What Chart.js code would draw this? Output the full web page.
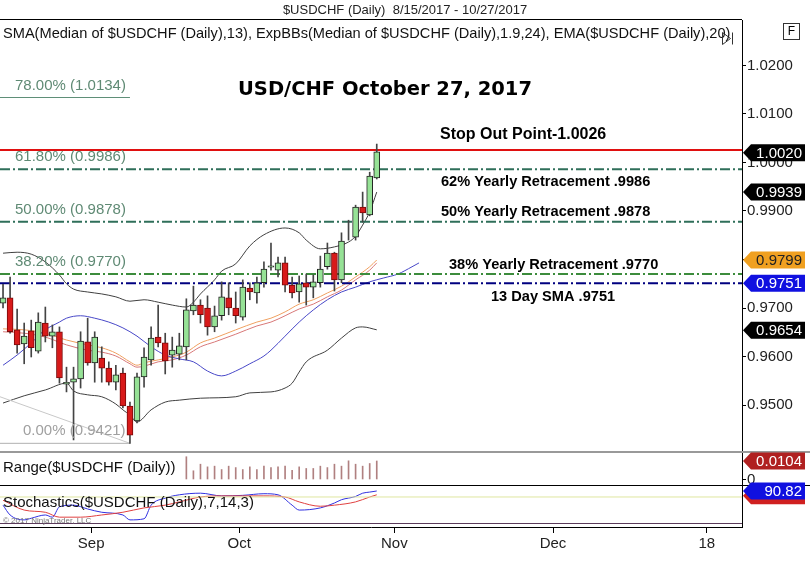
<!DOCTYPE html>
<html>
<head>
<meta charset="utf-8">
<script src="https://cdn.jsdelivr.net/npm/chart.js@4.4.0/dist/chart.umd.min.js"></script>
<style>
body { margin: 0; background: #fff; }
#wrap { width: 810px; height: 587px; position: relative; }
</style>
</head>
<body>
<div id="wrap"><canvas id="chart" width="810" height="587"></canvas></div>
<script>
// daily bars 8/15/2017 - 10/27/2017, x = trading day index (0 = Aug 15)
var open  = [0.9710,0.9721,0.9655,0.9626,0.9653,0.9611,0.9669,0.9642,0.9651,0.9543,0.9547,0.9554,0.9630,0.9587,0.9597,0.9576,0.9547,0.9566,0.9498,0.9467,0.9558,0.9593,0.9640,0.9628,0.9603,0.9605,0.9620,0.9694,0.9706,0.9700,0.9661,0.9684,0.9721,0.9700,0.9681,0.9741,0.9731,0.9752,0.9784,0.9778,0.9793,0.9747,0.9733,0.9752,0.9743,0.9752,0.9785,0.9813,0.9758,0.9847,0.9846,0.9908,0.9892,0.9968];
var high  = [0.9749,0.9764,0.9698,0.9669,0.9675,0.9690,0.9702,0.9665,0.9661,0.9578,0.9578,0.9651,0.9679,0.9651,0.9620,0.9589,0.9582,0.9576,0.9506,0.9566,0.9618,0.9661,0.9706,0.9648,0.9640,0.9648,0.9719,0.9745,0.9717,0.9725,0.9704,0.9754,0.9752,0.9733,0.9758,0.9752,0.9764,0.9795,0.9834,0.9805,0.9805,0.9764,0.9766,0.9770,0.9768,0.9807,0.9834,0.9815,0.9855,0.9881,0.9912,0.9939,0.9980,1.0038];
var low   = [0.9700,0.9648,0.9607,0.9585,0.9599,0.9607,0.9630,0.9618,0.9545,0.9527,0.9428,0.9535,0.9582,0.9547,0.9547,0.9541,0.9531,0.9494,0.9421,0.9463,0.9537,0.9582,0.9620,0.9564,0.9578,0.9593,0.9593,0.9686,0.9669,0.9644,0.9651,0.9675,0.9686,0.9669,0.9675,0.9717,0.9710,0.9743,0.9778,0.9764,0.9733,0.9721,0.9712,0.9706,0.9721,0.9743,0.9780,0.9735,0.9752,0.9840,0.9840,0.9877,0.9890,0.9966];
var close = [0.9721,0.9651,0.9624,0.9642,0.9618,0.9671,0.9642,0.9651,0.9556,0.9547,0.9554,0.9632,0.9587,0.9640,0.9576,0.9547,0.9562,0.9498,0.9438,0.9558,0.9599,0.9638,0.9628,0.9591,0.9613,0.9622,0.9696,0.9706,0.9686,0.9661,0.9684,0.9723,0.9700,0.9684,0.9743,0.9733,0.9752,0.9780,0.9787,0.9793,0.9747,0.9731,0.9750,0.9743,0.9754,0.9780,0.9813,0.9758,0.9838,0.9847,0.9908,0.9896,0.9972,1.0022];

// indicator lines
var bbUpIdx = [0,2,4,6,8,9,10,12,14,16,18,20,22,24,26,27,28,30,31,33,35,37,40,42,43,45,47,49,50,51,52,53];
var bbUp    = [0.9813,0.9815,0.9811,0.9795,0.9768,0.9750,0.9739,0.9733,0.9729,0.9723,0.9714,0.9717,0.9712,0.9706,0.9702,0.9712,0.9729,0.9758,0.9776,0.9791,0.9828,0.9851,0.9865,0.9855,0.9840,0.9822,0.9826,0.9836,0.9848,0.9871,0.9898,0.9939];
var bbLoIdx = [0,3,6,9,10,12,14,16,17,18,19,21,23,25,28,33,35,38,40,41,42,43,46,48,50,51,53];
var bbLo    = [0.9504,0.9519,0.9531,0.9545,0.9529,0.9521,0.9517,0.9502,0.9490,0.9479,0.9465,0.9490,0.9506,0.9510,0.9514,0.9517,0.9525,0.9527,0.9535,0.9545,0.9568,0.9589,0.9613,0.9638,0.9659,0.9661,0.9655];
var smaIdx  = [0,2,4,6,8,9,11,13,15,17,19,21,23,25,27,29,31,33,35,37,38,40,42,44,46,48,50,52,54,56,58,59];
var sma     = [0.9582,0.9603,0.9628,0.9655,0.9671,0.9679,0.9684,0.9679,0.9671,0.9659,0.9642,0.9620,0.9603,0.9595,0.9589,0.9570,0.9560,0.9570,0.9585,0.9601,0.9613,0.9642,0.9671,0.9696,0.9717,0.9733,0.9743,0.9754,0.9762,0.9770,0.9785,0.9793];
var emaIdx  = [0,3,6,9,12,14,16,18,19,20,22,24,26,28,30,33,36,38,40,42,44,46,48,50,52,53];
var ema     = [0.9657,0.9655,0.9648,0.9634,0.9624,0.9618,0.9607,0.9589,0.9582,0.9587,0.9593,0.9599,0.9609,0.9628,0.9638,0.9655,0.9671,0.9679,0.9692,0.9708,0.9717,0.9731,0.9745,0.9764,0.9785,0.9799];
var ema2    = [0.9651,0.9648,0.9640,0.9624,0.9613,0.9609,0.9601,0.9585,0.9578,0.9580,0.9589,0.9593,0.9603,0.9620,0.9630,0.9646,0.9663,0.9671,0.9684,0.9698,0.9708,0.9723,0.9737,0.9758,0.9778,0.9793];

// fib levels + manual lines
var fibLevels = [1.0134, 0.9986, 0.9878, 0.9770, 0.9421];
var fibNames  = ['78.00% (1.0134)', '61.80% (0.9986)', '50.00% (0.9878)', '38.20% (0.9770)', '0.00% (0.9421)'];
var stopLevel = 1.0026;
var smaLevel  = 0.9751;
var fibDiag   = [0.9517, 0.9421];

// lower panels
var rangeIdx = [26,27,28,29,30,31,32,33,34,35,36,37,38,39,40,41,42,43,44,45,46,47,48,49,50,51,52,53];
var rangeVal = [0.0128,0.0049,0.0086,0.0071,0.0075,0.0056,0.0075,0.0067,0.0056,0.0071,0.0056,0.0075,0.0067,0.0071,0.0075,0.0052,0.0071,0.0062,0.0062,0.0075,0.0067,0.0086,0.0075,0.0105,0.0086,0.0075,0.0090,0.0104];
var stochKIdx = [0,1,3,4,6,7,8,10,12,14,17,18,20,21,23,25,28,31,34,37,39,41,42,45,47,48,50,51,52,53];
var stochK    = [65,47,38,41,47,43,62,65,58,52,47,38,40,65,78,84,87,82,83,86,84,65,56,60,69,75,81,87,89,91];
var stochDIdx = [0,3,6,8,11,14,17,20,23,25,28,31,34,37,40,42,45,47,50,52,53];
var stochD    = [74,56,52,43,43,47,52,60,65,71,80,82,82,82,80,71,63,65,71,80,84];

// axis
var monthTicks  = [12.5, 33.5, 55.5, 78.0, 99.8];
var monthLabels = ['Sep', 'Oct', 'Nov', 'Dec', '18'];
var tagVals = [1.0020, 0.9939, 0.9799, 0.9751, 0.9654];
var tagText = ['1.0020', '0.9939', '0.9799', '0.9751', '0.9654'];
var tagBg   = ['#000', '#000', '#f0a020', '#1010e0', '#000'];

var X_MIN = -0.43, X_MAX = 104.8;
var FONT = '"Liberation Sans", Arial, sans-serif';

function pts(idx, vals) {
    return idx.map(function (x, i) { return {x: x, y: vals[i]}; });
}
function hline(v, x0, x1) {
    return [{x: x0, y: v}, {x: x1, y: v}];
}

var bodyColors = open.map(function (o, i) {
    if (close[i] > o) return '#96e296';
    if (close[i] < o) return '#d81a1a';
    return '#000';
});
var bodyBorders = open.map(function (o, i) {
    return close[i] < o ? '#7a0a0a' : '#222';
});

var dashDot = [10, 3, 2, 3];
function lineDs(data, color, width, extra) {
    var ds = {
        type: 'line', data: data, borderColor: color, borderWidth: width,
        pointRadius: 0, fill: false, yAxisID: 'y', order: 20,
        cubicInterpolationMode: 'monotone'
    };
    for (var k in extra) ds[k] = extra[k];
    return ds;
}

var datasets = [
    lineDs(hline(fibLevels[0], X_MIN, 18), '#5f8f78', 1, {}),
    lineDs(hline(fibLevels[1], X_MIN, X_MAX), '#2f6f5a', 2, {borderDash: dashDot}),
    lineDs(hline(fibLevels[2], X_MIN, X_MAX), '#2f6f5a', 2, {borderDash: dashDot}),
    lineDs(hline(fibLevels[3], X_MIN, X_MAX), '#3c8c3c', 2, {borderDash: dashDot}),
    lineDs(hline(fibLevels[4], X_MIN, 18), '#b0b0b0', 1, {}),
    lineDs([{x: X_MIN, y: fibDiag[0]}, {x: 18, y: fibDiag[1]}], '#c8c8c8', 1, {}),
    lineDs(hline(smaLevel, X_MIN, X_MAX), '#000080', 2, {borderDash: dashDot}),
    lineDs(hline(stopLevel, X_MIN, X_MAX), '#e01010', 2, {}),
    lineDs(pts(bbUpIdx, bbUp), '#404040', 1, {}),
    lineDs(pts(bbLoIdx, bbLo), '#404040', 1, {}),
    lineDs(pts(smaIdx, sma), '#4848c8', 1, {}),
    lineDs(pts(emaIdx, ema2), '#d87878', 1, {}),
    lineDs(pts(emaIdx, ema), '#f0a060', 1, {}),
    {
        type: 'bar', yAxisID: 'y', order: 10, grouped: false,
        data: low.map(function (l, i) { return {x: i, y: [l, high[i]]}; }),
        backgroundColor: '#444', barThickness: 1
    },
    {
        type: 'bar', yAxisID: 'y', order: 5, grouped: false,
        data: open.map(function (o, i) { return {x: i, y: [o, close[i]]}; }),
        backgroundColor: bodyColors, borderColor: bodyBorders,
        borderWidth: 1, borderSkipped: false, barThickness: 6
    },
    {
        type: 'bar', yAxisID: 'yR', grouped: false,
        data: pts(rangeIdx, rangeVal),
        backgroundColor: '#b08080', barThickness: 1
    },
    {
        type: 'line', yAxisID: 'yS', data: hline(80, X_MIN, X_MAX),
        borderColor: '#dfe6a0', borderWidth: 1, pointRadius: 0
    },
    {
        type: 'line', yAxisID: 'yS', data: pts(stochDIdx, stochD),
        borderColor: '#e04040', borderWidth: 1, pointRadius: 0, cubicInterpolationMode: 'monotone'
    },
    {
        type: 'line', yAxisID: 'yS', data: pts(stochKIdx, stochK),
        borderColor: '#3030e0', borderWidth: 1, pointRadius: 0, cubicInterpolationMode: 'monotone'
    }
];

function tag(ctx, yp, text, bg, fg) {
    var x0 = 743, h = 17;
    ctx.fillStyle = bg;
    ctx.beginPath();
    ctx.moveTo(x0, yp);
    ctx.lineTo(x0 + 8, yp - h / 2);
    ctx.lineTo(805, yp - h / 2);
    ctx.lineTo(805, yp + h / 2);
    ctx.lineTo(x0 + 8, yp + h / 2);
    ctx.closePath();
    ctx.fill();
    ctx.fillStyle = fg;
    ctx.font = '15px ' + FONT;
    ctx.textAlign = 'right';
    ctx.textBaseline = 'middle';
    ctx.fillText(text, 802, yp + 1);
}

var overlay = {
    id: 'overlay',
    afterDraw: function (chart) {
        var ctx = chart.ctx;
        var y = chart.scales.y, yR = chart.scales.yR, yS = chart.scales.yS;
        ctx.save();

        // panel separators
        ctx.fillStyle = '#999';
        ctx.fillRect(0, yR.top - 1, 810, 2);
        ctx.fillStyle = '#000';
        ctx.fillRect(0, yS.top, 810, 1);
        ctx.fillStyle = '#5a3a5a';
        ctx.fillRect(0, yS.bottom - 4, 742, 1);

        // header
        ctx.fillStyle = '#222';
        ctx.font = '13px ' + FONT;
        ctx.textAlign = 'center';
        ctx.textBaseline = 'middle';
        ctx.fillText('$USDCHF (Daily)  8/15/2017 - 10/27/2017', 405, 10);
        ctx.fillStyle = '#000';
        ctx.fillRect(0, 19, 742, 1);

        ctx.save();
        ctx.beginPath();
        ctx.rect(0, 20, 738, 30);
        ctx.clip();
        ctx.textAlign = 'left';
        ctx.font = '14.6px ' + FONT;
        ctx.fillStyle = '#111';
        ctx.fillText('SMA(Median of $USDCHF (Daily),13), ExpBBs(Median of $USDCHF (Daily),1.9,24), EMA($USDCHF (Daily),20)', 3, 34);
        ctx.restore();
        // small scroll glyph over the end of the label
        ctx.strokeStyle = '#333';
        ctx.lineWidth = 1;
        ctx.beginPath();
        ctx.moveTo(722.5, 32.5); ctx.lineTo(730.5, 38.5); ctx.lineTo(722.5, 44.5); ctx.closePath();
        ctx.moveTo(732.5, 32.5); ctx.lineTo(732.5, 44.5);
        ctx.stroke();

        // F box
        ctx.strokeRect(783.5, 23.5, 16, 16);
        ctx.fillStyle = '#000';
        ctx.font = '12px ' + FONT;
        ctx.textAlign = 'center';
        ctx.fillText('F', 791.5, 32);

        // fib labels
        ctx.textAlign = 'left';
        ctx.font = '15px ' + FONT;
        fibLevels.forEach(function (lv, i) {
            ctx.fillStyle = i === 4 ? '#a0a0a0' : '#5f8a74';
            ctx.fillText(fibNames[i], i === 4 ? 23 : 15, y.getPixelForValue(lv) - 12);
        });

        // annotations
        ctx.fillStyle = '#000';
        ctx.font = 'bold 19.5px "DejaVu Sans", sans-serif';
        ctx.fillText('USD/CHF October 27, 2017', 238, 90);
        ctx.font = 'bold 16px ' + FONT;
        ctx.fillText('Stop Out Point-1.0026', 440, 135);
        ctx.font = 'bold 14.6px ' + FONT;
        ctx.fillText('62% Yearly Retracement .9986', 441, 182);
        ctx.fillText('50% Yearly Retracement .9878', 441, 212);
        ctx.fillText('38% Yearly Retracement .9770', 449, 265);
        ctx.fillText('13 Day SMA .9751', 491, 297);

        // lower panel labels
        ctx.font = '15px ' + FONT;
        var rl = 'Range($USDCHF (Daily))';
        ctx.fillStyle = '#fff';
        ctx.fillRect(0, yR.top + 1, ctx.measureText(rl).width + 6, yR.bottom - yR.top - 2);
        ctx.fillStyle = '#111';
        ctx.fillText(rl, 3, 468);
        ctx.fillText('Stochastics($USDCHF (Daily),7,14,3)', 3, 503);
        ctx.font = '8px ' + FONT;
        ctx.fillStyle = '#777';
        ctx.fillText('\u00a9 2017 NinjaTrader, LLC', 3, 521);

        // value tags on the price axis
        tagVals.forEach(function (v, i) {
            tag(ctx, y.getPixelForValue(v), tagText[i], tagBg[i], i === 2 ? '#222' : '#fff');
        });
        tag(ctx, yR.getPixelForValue(rangeVal[rangeVal.length - 1]), '0.0104', '#b02020', '#fff');
        tag(ctx, yS.getPixelForValue(stochD[stochD.length - 1]) + 1, '', '#d02020', '#fff');
        tag(ctx, yS.getPixelForValue(90.82), '90.82', '#1010e0', '#fff');
        ctx.restore();
    }
};

function fixWidth(scale) { scale.width = 68; }

new Chart(document.getElementById('chart'), {
    type: 'bar',
    data: { datasets: datasets },
    plugins: [overlay],
    options: {
        responsive: false,
        animation: false,
        layout: { padding: { top: 20, left: 0, right: 0, bottom: 0 } },
        plugins: { legend: { display: false }, title: { display: false }, tooltip: { enabled: false } },
        scales: {
            x: {
                type: 'linear', position: 'bottom', min: X_MIN, max: X_MAX, offset: false,
                afterBuildTicks: function (axis) {
                    axis.ticks = monthTicks.map(function (v) { return {value: v}; });
                },
                afterFit: function (scale) { scale.height = 60; },
                ticks: {
                    autoSkip: false, maxRotation: 0, padding: 2, color: '#222',
                    font: { family: FONT, size: 15 },
                    callback: function (v, i) { return monthLabels[i]; }
                },
                grid: { drawOnChartArea: false, offset: false, tickLength: 6, color: '#000' },
                border: { color: '#000' }
            },
            y: {
                type: 'linear', position: 'right', stack: 'panels', stackWeight: 432,
                min: 0.94031, max: 1.02938,
                afterBuildTicks: function (axis) {
                    var t = [];
                    for (var v = 95; v <= 102; v++) t.push({value: v / 100});
                    axis.ticks = t;
                },
                afterFit: fixWidth,
                ticks: {
                    padding: 1, color: '#222', font: { family: FONT, size: 15 },
                    callback: function (v) { return v.toFixed(4); }
                },
                grid: { drawOnChartArea: false, tickLength: 4, color: '#000' },
                border: { color: '#000' }
            },
            yR: {
                type: 'linear', position: 'right', stack: 'panels', stackWeight: 33,
                min: -0.0031, max: 0.01546,
                afterBuildTicks: function (axis) { axis.ticks = [{value: 0}]; },
                afterFit: fixWidth,
                ticks: { padding: 1, color: '#222', font: { family: FONT, size: 15 } },
                grid: { drawOnChartArea: false, tickLength: 4, color: '#000' },
                border: { color: '#000' }
            },
            yS: {
                type: 'linear', position: 'right', stack: 'panels', stackWeight: 42,
                min: 24.95, max: 102.0,
                afterBuildTicks: function (axis) { axis.ticks = []; },
                afterFit: fixWidth,
                ticks: { display: false },
                grid: { drawOnChartArea: false, drawTicks: false },
                border: { color: '#000' }
            }
        }
    }
});
</script>
</body>
</html>
